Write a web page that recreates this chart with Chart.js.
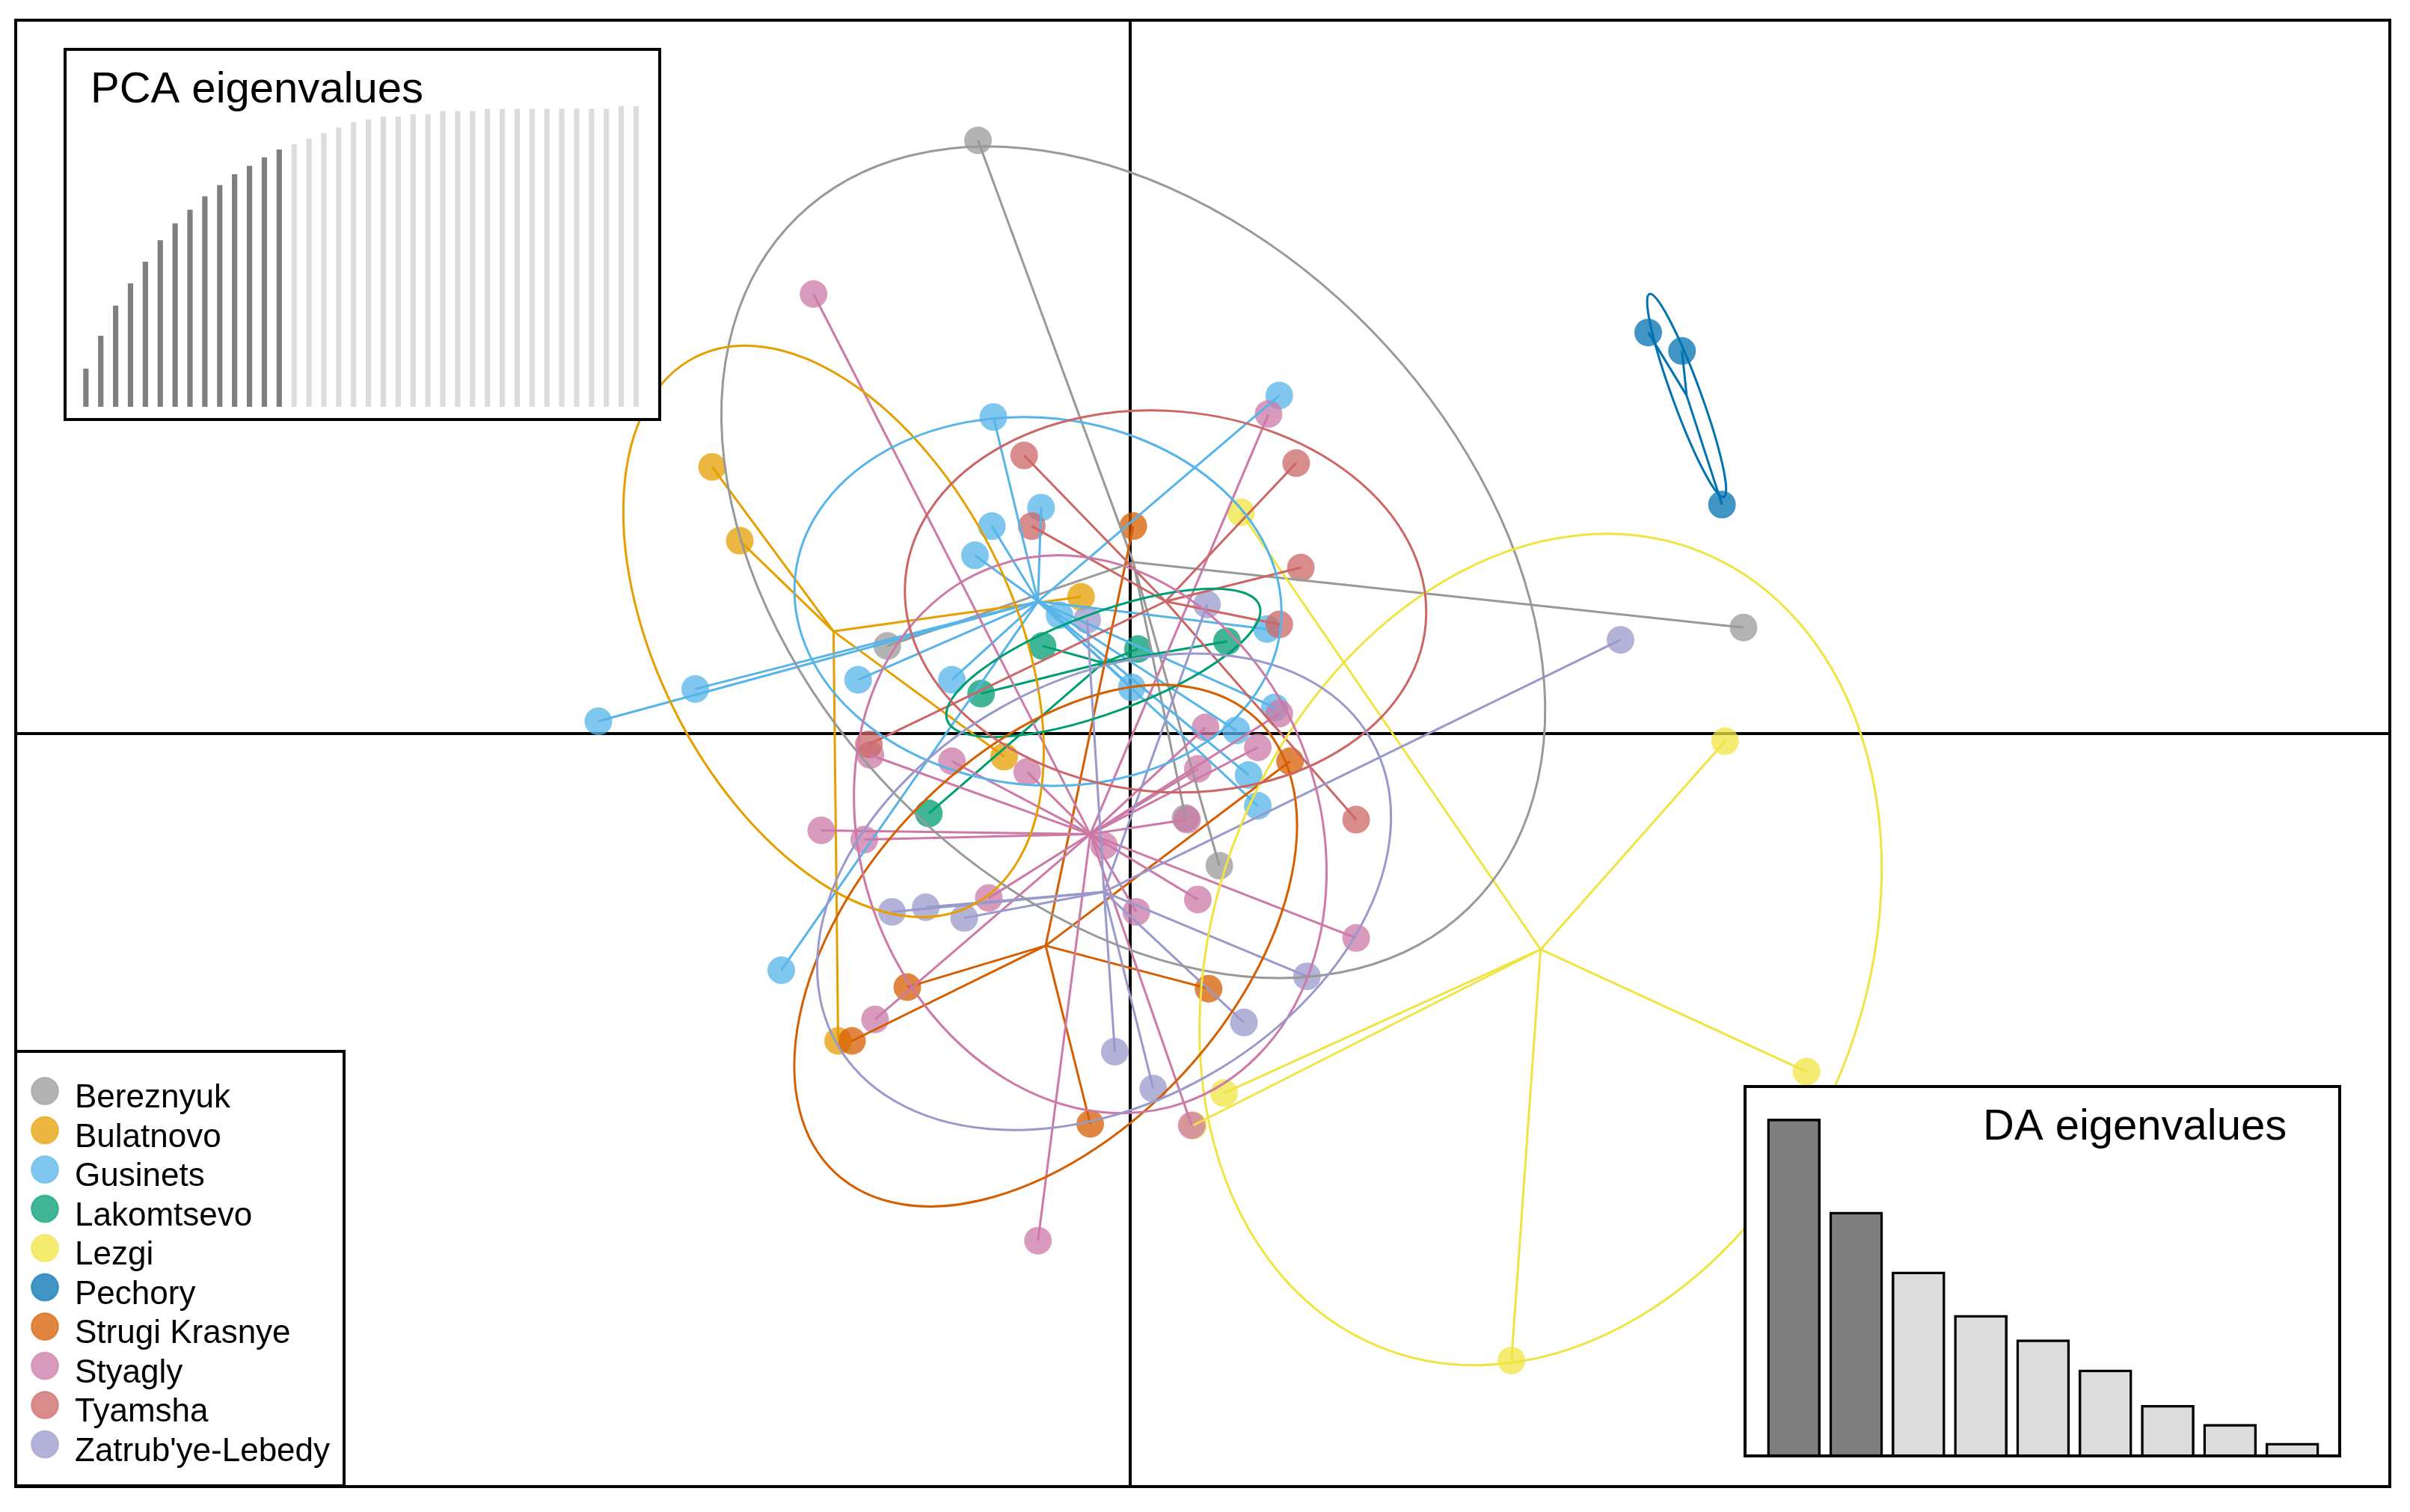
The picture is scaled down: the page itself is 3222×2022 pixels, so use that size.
<!DOCTYPE html>
<html>
<head>
<meta charset="utf-8">
<script src="https://cdn.jsdelivr.net/npm/chart.js@4.4.1/dist/chart.umd.min.js"></script>
<style>
  html, body { margin: 0; padding: 0; background: #fff; }
  #wrap { position: relative; width: 3222px; height: 2022px; }
  #main { position: absolute; left: 0; top: 0; }
  .inset { position: absolute; border: 4px solid #000; background: #fff; }
  .inset canvas { display: block; }
</style>
</head>
<body>
<div id="wrap">
  <canvas id="main" width="3222" height="2022"></canvas>
  <div class="inset" style="left:85px; top:64px;"><canvas id="pca" width="791" height="491"></canvas></div>
  <div class="inset" style="left:2331px; top:1451px;"><canvas id="da" width="791" height="490"></canvas></div>
</div>
<script>
// populations, in legend order
const groups = ['Bereznyuk', 'Bulatnovo', 'Gusinets', 'Lakomtsevo', 'Lezgi', 'Pechory',
                'Strugi Krasnye', 'Styagly', 'Tyamsha', "Zatrub'ye-Lebedy"];
const groupColors = ['#999999', '#E69F00', '#56B4E9', '#009E73', '#F0E442', '#0072B2',
                     '#D55E00', '#CC79A7', '#CC6666', '#9999CC'];

// individuals on LD1 / LD2
const ptsBereznyuk = [[-0.99, 3.86], [-1.58, 0.57], [3.99, 0.69], [0.58, -0.86], [0.36, -0.55]];
const ptsBulatnovo = [[-2.72, 1.735], [-2.54, 1.255], [-0.32, 0.89], [-0.82, -0.15], [-1.90, -2.00]];
const ptsGusinets = [[-3.46, 0.08], [-2.83, 0.29], [-0.89, 2.06], [-0.58, 1.47], [-0.90, 1.35], [-1.01, 1.16],
                     [-1.77, 0.35], [-1.16, 0.35], [-0.46, 0.77], [0.01, 0.30], [0.97, 2.20], [0.89, 0.68],
                     [0.94, 0.17], [0.69, 0.02], [0.77, -0.27], [0.83, -0.47], [-2.27, -1.54]];
const ptsLakomtsevo = [[-0.57, 0.57], [0.05, 0.55], [0.63, 0.60], [-0.97, 0.26], [-1.31, -0.52]];
const ptsLezgi = [[0.72, 1.44], [3.87, -0.05], [4.40, -2.20], [0.61, -2.34], [0.41, -2.55], [2.48, -4.08]];
const ptsPechory = [[3.37, 2.61], [3.59, 2.49], [3.85, 1.49]];
const ptsStrugi = [[0.02, 1.35], [1.04, -0.18], [0.51, -1.66], [-0.26, -2.54], [-1.45, -1.65], [-1.81, -2.00]];
const ptsStyagly = [[-2.06, 2.86], [0.90, 2.08], [-2.01, -0.63], [-1.73, -0.69], [-1.69, -0.14], [-1.16, -0.18],
                    [-0.67, -0.25], [-0.92, -1.07], [-1.66, -1.86], [-0.60, -3.30], [-0.17, -0.73], [0.04, -1.16],
                    [0.49, 0.04], [0.83, -0.09], [0.44, -0.23], [0.37, -0.56], [0.44, -1.08], [1.47, -1.33],
                    [0.40, -2.55], [0.97, 0.13]];
const ptsTyamsha = [[-0.69, 1.81], [-0.64, 1.35], [1.08, 1.76], [1.11, 1.08], [0.97, 0.71], [1.47, -0.56], [-1.70, -0.07]];
const ptsZatrubye = [[3.19, 0.61], [0.50, 0.84], [-0.28, 0.74], [-1.55, -1.16], [-1.33, -1.13], [-1.08, -1.20],
                     [-0.10, -2.07], [0.15, -2.31], [1.15, -1.58], [0.74, -1.88]];
const groupPoints = [ptsBereznyuk, ptsBulatnovo, ptsGusinets, ptsLakomtsevo, ptsLezgi, ptsPechory,
                     ptsStrugi, ptsStyagly, ptsTyamsha, ptsZatrubye];

// group centroids
const centroidX = [0.02, -1.93, -0.60, -0.175, 2.67, 3.62, -0.55, -0.26, 0.23, -0.17];
const centroidY = [1.115, 0.665, 0.86, 0.46, -1.405, 2.20, -1.38, -0.655, 0.86, -1.03];

// inertia ellipses: semi-axes and angle of the major axis (degrees)
const ellA = [3.134, 1.998, 1.588, 1.082, 2.790, 0.704, 2.015, 1.851, 1.699, 2.000];
const ellB = [2.163, 1.155, 1.195, 0.325, 2.111, 0.092, 1.222, 1.494, 1.239, 1.374];
const ellAngle = [-45.8, -63.3, -6, 20.2, 68, -69.9, 47.3, -70.6, -5, 29.6];

// inset bar plots
const pcaCumVar = [12.6, 23.5, 33.5, 40.9, 48.1, 55.3, 60.9, 65.4, 69.9, 73.6, 77.2, 80.0, 82.8, 85.4,
                   87.2, 89.0, 90.9, 92.7, 94.5, 95.4, 96.4, 96.4, 97.2, 97.2, 98.2, 98.2, 98.2, 99.0,
                   99.0, 99.0, 99.0, 99.0, 99.0, 99.0, 99.0, 99.0, 100, 100];
const pcRetained = 14;
const daEig = [117.8, 85.1, 64.1, 48.9, 40.3, 29.7, 17.3, 10.6, 4.0];
const daRetained = 2;

const FONT = '"Liberation Sans", Arial, sans-serif';

function fade(hex, a){
    const n = parseInt(hex.slice(1), 16);
    return `rgba(${n >> 16}, ${(n >> 8) & 255}, ${n & 255}, ${a})`;
}

// axes, ellipses, frame and legend
const dapcDecor = {
    id: 'dapcDecor',
    beforeDatasetsDraw(chart){
        const {ctx, chartArea: a, scales: {x, y}} = chart;
        const x0 = x.getPixelForValue(0);
        const y0 = y.getPixelForValue(0);
        ctx.save();
        ctx.strokeStyle = '#000';
        ctx.lineWidth = 4;
        ctx.beginPath();
        ctx.moveTo(x0, a.top); ctx.lineTo(x0, a.bottom);
        ctx.moveTo(a.left, y0); ctx.lineTo(a.right, y0);
        ctx.stroke();
        ctx.restore();
    },
    afterDatasetsDraw(chart){
        const {ctx, scales: {x, y}} = chart;
        ctx.save();
        ctx.lineWidth = 3;
        groups.forEach((name, g) => {
            const t = ellAngle[g] * Math.PI / 180;
            const cx = centroidX[g], cy = centroidY[g];
            const C = [x.getPixelForValue(cx), y.getPixelForValue(cy)];
            const A = [x.getPixelForValue(cx + ellA[g] * Math.cos(t)), y.getPixelForValue(cy + ellA[g] * Math.sin(t))];
            const B = [x.getPixelForValue(cx - ellB[g] * Math.sin(t)), y.getPixelForValue(cy + ellB[g] * Math.cos(t))];
            const ra = Math.hypot(A[0] - C[0], A[1] - C[1]);
            const rb = Math.hypot(B[0] - C[0], B[1] - C[1]);
            ctx.beginPath();
            ctx.ellipse(C[0], C[1], ra, rb, Math.atan2(A[1] - C[1], A[0] - C[0]), 0, Math.PI * 2);
            ctx.strokeStyle = groupColors[g];
            ctx.stroke();
        });
        ctx.restore();
    },
    afterDraw(chart){
        const {ctx, chartArea: a} = chart;
        ctx.save();
        // legend box, bottom left
        ctx.fillStyle = '#fff';
        ctx.fillRect(a.left, 1406, 439, 581);
        ctx.lineWidth = 4;
        ctx.strokeStyle = '#000';
        ctx.strokeRect(a.left, 1406, 439, 581);
        ctx.font = '44px ' + FONT;
        ctx.textBaseline = 'alphabetic';
        groups.forEach((name, g) => {
            const yy = 1459 + g * 52.5;
            ctx.beginPath();
            ctx.arc(60, yy, 18, 0, Math.PI * 2);
            ctx.fillStyle = fade(groupColors[g], 0.75);
            ctx.fill();
            ctx.lineWidth = 2;
            ctx.strokeStyle = fade(groupColors[g], 0.55);
            ctx.stroke();
            ctx.fillStyle = '#000';
            ctx.fillText(name, 100, yy + 22);
        });
        // plot frame
        ctx.lineWidth = 4;
        ctx.strokeStyle = '#000';
        ctx.strokeRect(a.left, a.top, a.right - a.left, a.bottom - a.top);
        ctx.restore();
    }
};

function drawScatter(){
    const datasets = [];
    groupPoints.forEach((pts, g) => {
        // later groups sit on top; all lines above all points
        datasets.push({
            data: pts.map(p => ({x: p[0], y: p[1]})),
            backgroundColor: fade(groupColors[g], 0.75),
            pointRadius: 18.5,
            pointBorderWidth: 0,
            order: 40 - g
        });
        // star: centroid -> each individual
        pts.forEach(p => {
            datasets.push({
                data: [{x: centroidX[g], y: centroidY[g]}, {x: p[0], y: p[1]}],
                showLine: true,
                pointRadius: 0,
                borderColor: groupColors[g],
                borderWidth: 3,
                order: 20 - g
            });
        });
    });

    new Chart(document.getElementById('main'), {
        type: 'scatter',
        data: { datasets },
        plugins: [dapcDecor],
        options: {
            responsive: false,
            animation: false,
            events: [],
            layout: { padding: { left: 21, top: 27, right: 27, bottom: 34 } },
            plugins: { legend: { display: false }, tooltip: { enabled: false } },
            scales: {
                x: { type: 'linear', min: -7.2506, max: 8.1946, display: false },
                y: { type: 'linear', min: -4.9002, max: 4.6423, display: false }
            }
        }
    });
}

function titlePlugin(text, tx, ty){
    return {
        id: 'insetTitle',
        afterDraw(chart){
            const ctx = chart.ctx;
            ctx.save();
            ctx.font = '58px ' + FONT;
            ctx.fillStyle = '#000';
            ctx.textBaseline = 'alphabetic';
            ctx.fillText(text, tx, ty);
            ctx.restore();
        }
    };
}

function drawInsets(){
    new Chart(document.getElementById('pca'), {
        type: 'bar',
        data: {
            labels: pcaCumVar.map((v, i) => i + 1),
            datasets: [{
                data: pcaCumVar,
                backgroundColor: pcaCumVar.map((v, i) => i < pcRetained ? '#7F7F7F' : '#DCDCDC'),
                borderWidth: 0,
                barThickness: 6.5
            }]
        },
        plugins: [titlePlugin('PCA eigenvalues', 32, 69)],
        options: {
            responsive: false,
            animation: false,
            events: [],
            layout: { padding: { left: 15.9, right: 19.6, top: 73.7, bottom: 15.1 } },
            plugins: { legend: { display: false }, tooltip: { enabled: false } },
            scales: {
                x: { display: false },
                y: { display: false, min: 0, max: 100 }
            }
        }
    });

    new Chart(document.getElementById('da'), {
        type: 'bar',
        data: {
            labels: daEig.map((v, i) => i + 1),
            datasets: [{
                data: daEig,
                backgroundColor: daEig.map((v, i) => i < daRetained ? '#7F7F7F' : '#DCDCDC'),
                borderColor: '#000',
                borderWidth: 3.5,
                barThickness: 71
            }]
        },
        plugins: [titlePlugin('DA eigenvalues', 316, 69)],
        options: {
            responsive: false,
            animation: false,
            events: [],
            layout: { padding: { left: 21.6, right: 19.7, top: 10, bottom: 0 } },
            plugins: { legend: { display: false }, tooltip: { enabled: false } },
            scales: {
                x: { display: false },
                y: { display: false, min: 0, max: 126 }
            }
        }
    });
}

window.addEventListener('load', () => {
    drawScatter();
    drawInsets();
});
</script>
</body>
</html>
